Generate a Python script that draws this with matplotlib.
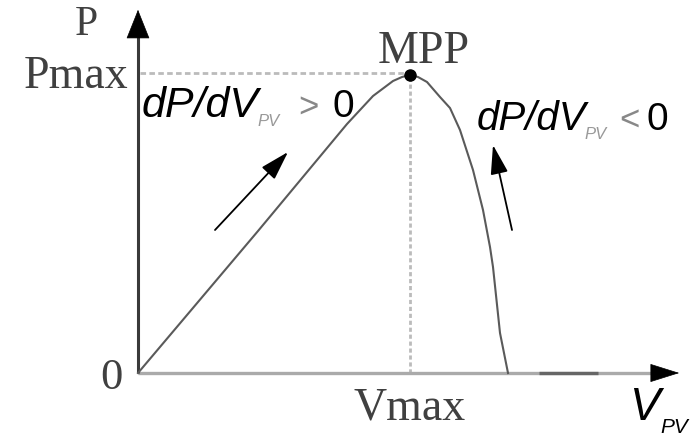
import matplotlib
matplotlib.use("Agg")
import matplotlib.pyplot as plt

# P-V characteristic of a PV panel (schematic units)
curve_v = [0, 120, 209, 235, 255, 264, 272, 280, 289, 302, 312, 322, 335, 345, 352, 355, 362, 370]
curve_p = [0, 142, 249, 277, 292, 296, 298, 296, 291, 276, 265, 243, 203, 163, 126, 106, 40, 0]

v_max = 272
p_max = 298
v_axis_end = 544
p_axis_end = 366

# direction arrows along the curve: (tail, tip)
rise_arrow = ((77, 143), (150, 221))
fall_arrow = ((374, 143), (355, 228))

SERIF = "Liberation Serif"
SANS = "Liberation Sans"
TXT = "#404040"

fig = plt.figure(figsize=(6.93, 4.37), dpi=100)
ax = fig.add_axes([0, 0, 1, 1])
ax.set_xlim(-138, 555)
ax.set_ylim(-64, 373)
ax.axis("off")

# axes
ax.plot([0, v_axis_end - 20], [0, 0], color="#aaaaaa", lw=2.4, solid_capstyle="butt", zorder=2)
ax.plot([401, 460], [0, 0], color="#666666", lw=2.4, solid_capstyle="butt", zorder=3)
ax.annotate("", xy=(v_axis_end, 0), xytext=(v_axis_end - 30, 0),
            arrowprops=dict(arrowstyle="-|>,head_length=0.7,head_width=0.22",
                            color="black", lw=0.5, mutation_scale=28))
ax.plot([0, 0], [0, p_axis_end - 20], color="#3a3a3a", lw=2.2, solid_capstyle="butt", zorder=3)
ax.annotate("", xy=(0, p_axis_end), xytext=(0, p_axis_end - 30),
            arrowprops=dict(arrowstyle="-|>,head_length=0.7,head_width=0.28",
                            color="black", lw=0.5, mutation_scale=28))

# guides to the maximum power point
ax.plot([2, v_max], [p_max + 2, p_max + 2], color="#bbbbbb", lw=2, ls=(0, (2, 1.2)), zorder=1)
ax.plot([v_max, v_max], [0, p_max], color="#bbbbbb", lw=2, ls=(0, (1.5, 1)), zorder=1)

# the P-V curve and MPP
ax.plot(curve_v, curve_p, color="#5a5a5a", lw=1.5, zorder=4)
ax.plot([v_max], [p_max], "o", color="black", ms=8, zorder=5)

for tail, tip in (rise_arrow, fall_arrow):
    ax.annotate("", xy=tip, xytext=tail,
                arrowprops=dict(arrowstyle="-|>,head_length=1.0,head_width=0.3",
                                color="black", lw=1.3, mutation_scale=18,
                                shrinkA=0, shrinkB=0))

# labels
ax.text(-52, 338, "P", family=SERIF, fontsize=30, color=TXT, ha="center", va="baseline")
ax.text(-10, 285, "Pmax", family=SERIF, fontsize=33, color=TXT, ha="right", va="baseline")
ax.text(-27, -16, "0", family=SERIF, fontsize=32, color=TXT, ha="center", va="baseline")
ax.text(272, -47, "Vmax", family=SERIF, fontsize=33, color=TXT, ha="center", va="baseline")
ax.text(286, 310, "MPP", family=SERIF, fontsize=33, color=TXT, ha="center", va="baseline")

# slope conditions
def slope_label(v0, p0, sign, size, offsets):
    sub_dx, sign_dx, zero_dx = offsets
    ax.text(v0, p0, "dP/dV", family=SANS, style="italic", fontsize=size,
            color="black", ha="left", va="baseline")
    ax.text(v0 + sub_dx, p0 - 9, "PV", family=SANS, style="italic", fontsize=12,
            color="#999999", ha="left", va="baseline")
    ax.text(v0 + sign_dx, p0, sign, family=SANS, fontsize=25,
            color="#888888", ha="left", va="baseline")
    ax.text(v0 + zero_dx, p0, "0", family=SANS, fontsize=28,
            color="black", ha="left", va="baseline")

slope_label(4, 256, ">", 31, (115, 156, 190))
slope_label(339, 243, "<", 29, (107, 142, 170))

# horizontal axis name
ax.text(491, -47, "V", family=SANS, style="italic", fontsize=33, color="black",
        ha="left", va="baseline")
ax.text(522, -60, "PV", family=SANS, style="italic", fontsize=15, color="black",
        ha="left", va="baseline")

fig.savefig("out.png", dpi=100)
